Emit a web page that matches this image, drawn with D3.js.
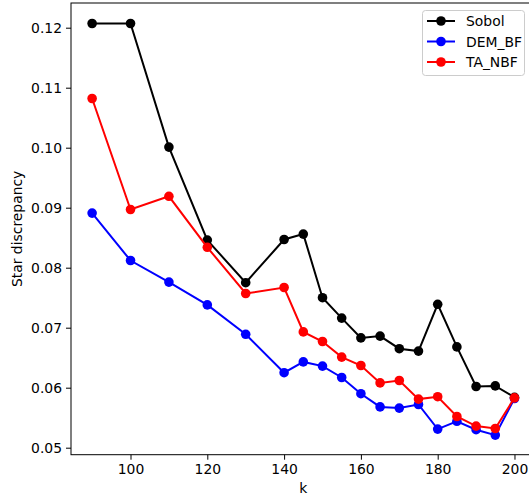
<!DOCTYPE html>
<html><head><meta charset="utf-8">
<script src="https://cdn.jsdelivr.net/npm/d3@7"></script>
<style>body{margin:0;background:#fff}svg{display:block}text{font-family:"DejaVu Sans",sans-serif}</style>
</head><body>
<script>
const ks = [90,100,110,120,130,140,145,150,155,160,165,170,175,180,185,190,195,200];
const sobol = [0.1207,0.1207,0.1001,0.0846,0.0775,0.0847,0.0856,0.0750,0.0716,0.0683,0.0686,0.0665,0.0661,0.0739,0.0668,0.0602,0.0603,0.0584];
const demBF = [0.0891,0.0812,0.0776,0.0738,0.0689,0.0625,0.0643,0.0636,0.0617,0.0590,0.0568,0.0566,0.0572,0.0531,0.0544,0.0530,0.0521,0.0582];
const taNBF = [0.1082,0.0897,0.0919,0.0834,0.0757,0.0767,0.0693,0.0677,0.0651,0.0637,0.0608,0.0612,0.0581,0.0585,0.0552,0.0536,0.0532,0.0583];
const seriesNames = ["Sobol","DEM_BF","TA_NBF"];
const colors = ["#000000","#0000ff","#ff0000"];
const xTicks = [100,120,140,160,180,200];
const yTicks = [0.05,0.06,0.07,0.08,0.09,0.10,0.11,0.12];

const W=529,H=495,FS="13.9px";
const L=71,R=535.6,T=3,B=454.7;
const svg=d3.select("body").append("svg").attr("width",W).attr("height",H);
const x=d3.scaleLinear().domain([84.5,205.5]).range([L,R]);
const y=d3.scaleLinear().domain([0.0489,0.1241]).range([454.3,3.1]);

const gx=svg.append("g").attr("transform",`translate(0,${B})`)
  .call(d3.axisBottom(x).tickValues(xTicks).tickSize(5).tickPadding(4).tickFormat(d3.format("d")));
const gy=svg.append("g").attr("transform",`translate(${L},0)`)
  .call(d3.axisLeft(y).tickValues(yTicks).tickSize(5).tickPadding(4).tickFormat(d3.format(".2f")));
[gx,gy].forEach(g=>{g.select(".domain").remove();g.selectAll("line").attr("stroke","#000").attr("stroke-width",1);
  g.selectAll("text").attr("font-size",FS).attr("fill","#000");});
svg.append("rect").attr("x",L).attr("y",T).attr("width",R-L).attr("height",B-T)
  .attr("fill","none").attr("stroke","#000").attr("stroke-width",1);

const data=[sobol,demBF,taNBF];
const line=d3.line().x((d,i)=>x(ks[i])).y(d=>y(d));
data.forEach((vals,s)=>{
  const g=svg.append("g");
  g.append("path").datum(vals).attr("d",line).attr("fill","none").attr("stroke",colors[s]).attr("stroke-width",2);
  g.selectAll("circle").data(vals).enter().append("circle")
    .attr("cx",(d,i)=>x(ks[i])).attr("cy",d=>y(d)).attr("r",4.8).attr("fill",colors[s]);
});

svg.append("text").attr("x",(L+R)/2).attr("y",493).attr("text-anchor","middle").attr("font-size",FS).text("k");
svg.append("text").attr("transform",`translate(22,${(T+B)/2}) rotate(-90)`).attr("text-anchor","middle").attr("font-size",FS).text("Star discrepancy");

const lg=svg.append("g");
lg.append("rect").attr("x",422.5).attr("y",10.5).attr("width",102).attr("height",65).attr("rx",3)
  .attr("fill","#fff").attr("stroke","#ccc").attr("stroke-width",1);
seriesNames.forEach((n,i)=>{
  const yy=21+i*20.5;
  lg.append("line").attr("x1",427).attr("x2",455).attr("y1",yy).attr("y2",yy).attr("stroke",colors[i]).attr("stroke-width",2);
  lg.append("circle").attr("cx",441).attr("cy",yy).attr("r",4.8).attr("fill",colors[i]);
  lg.append("text").attr("x",466).attr("y",yy+5).attr("font-size",FS).text(n);
});
</script>
</body></html>
